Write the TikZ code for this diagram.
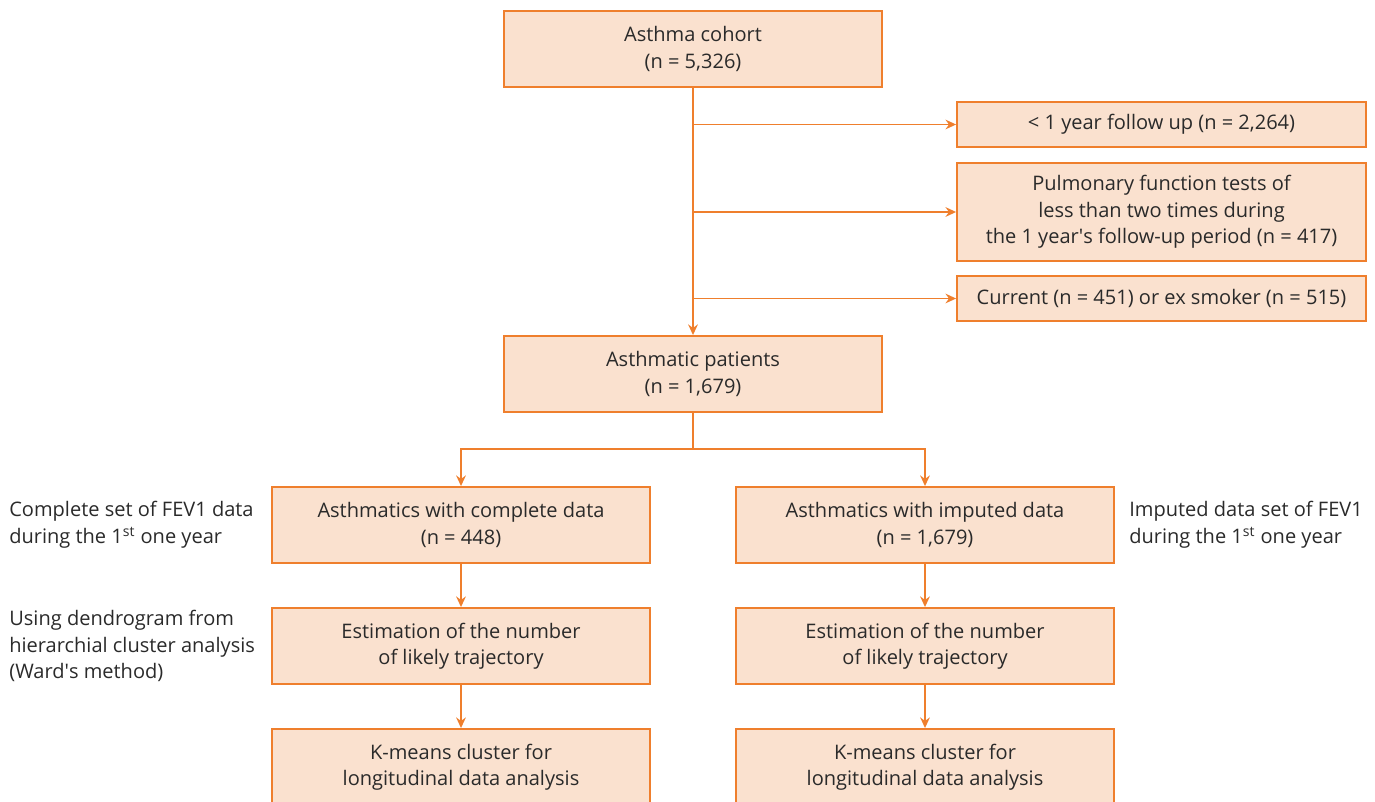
\documentclass[tikz,border=0pt]{standalone}
\usepackage{fontspec}
\setmainfont{Open Sans}
\usepackage{tikz}
\usetikzlibrary{arrows.meta}

\definecolor{boxfill}{HTML}{FAE1CF}
\definecolor{boxline}{HTML}{EF7F2D}
\definecolor{txt}{HTML}{2A2A2A}

\begin{document}
\begin{tikzpicture}[x=0.02cm, y=-0.02cm,
	every node/.style={text=txt, font=\fontsize{11.4pt}{15.1pt}\selectfont},
	box/.style={draw=boxline, fill=boxfill, line width=1.1pt, align=center,
		minimum width=7.56cm, minimum height=1.52cm, inner sep=0pt},
	exbox/.style={box, minimum width=8.18cm, minimum height=0.9cm},
	side/.style={align=left, anchor=west, inner sep=0pt},
	arr/.style={draw=boxline, line width=1.1pt, -{Stealth[length=6pt, width=5.5pt]}}]

	\useasboundingbox (0,0) rectangle (1375,801);

	% Main trunk
	\node[box] (cohort) at (693,49) {Asthma cohort\\(n = 5,326)};
	\node[box] (pts) at (693,374) {Asthmatic patients\\(n = 1,679)};

	% Exclusions
	\node[exbox] (fu) at (1161.5,124.5) {< 1 year follow up (n = 2,264)};
	\node[exbox, minimum height=1.96cm] (pft) at (1161.5,212)
		{Pulmonary function tests of\\less than two times during\\the 1 year\textquotesingle s follow-up period (n = 417)};
	\node[exbox] (smk) at (1161.5,298.5) {Current (n = 451) or ex smoker (n = 515)};

	% Two branches
	\node[box] (cmp) at (461,525) {Asthmatics with complete data\\(n = 448)};
	\node[box] (imp) at (925,525) {Asthmatics with imputed data\\(n = 1,679)};
	\node[box] (estL) at (461,646) {Estimation of the number\\of likely trajectory};
	\node[box] (estR) at (925,646) {Estimation of the number\\of likely trajectory};
	\node[box] (kmL) at (461,767) {K-means cluster for\\longitudinal data analysis};
	\node[box] (kmR) at (925,767) {K-means cluster for\\longitudinal data analysis};

	% Side notes
	\node[side] (noteA) at (9,525) {Complete set of FEV1 data\\during the 1\textsuperscript{st} one year};
	\node[side] (noteB) at (9,646) {Using dendrogram from\\hierarchial cluster analysis\\(Ward\textquotesingle s method)};
	\node[side] (noteC) at (1129,525) {Imputed data set of FEV1\\during the 1\textsuperscript{st} one year};

	% Connectors
	\draw[arr] (cohort.south) -- (pts.north);
	\draw[arr] (cohort.south |- fu.west) -- (fu.west);
	\draw[arr] (cohort.south |- pft.west) -- (pft.west);
	\draw[arr] (cohort.south |- smk.west) -- (smk.west);

	\coordinate (split) at (693,449);
	\draw[arr] (pts.south) -- (split) -| (cmp.north);
	\draw[arr] (split) -| (imp.north);

	\draw[arr] (cmp) -- (estL);
	\draw[arr] (estL) -- (kmL);
	\draw[arr] (imp) -- (estR);
	\draw[arr] (estR) -- (kmR);
\end{tikzpicture}
\end{document}
